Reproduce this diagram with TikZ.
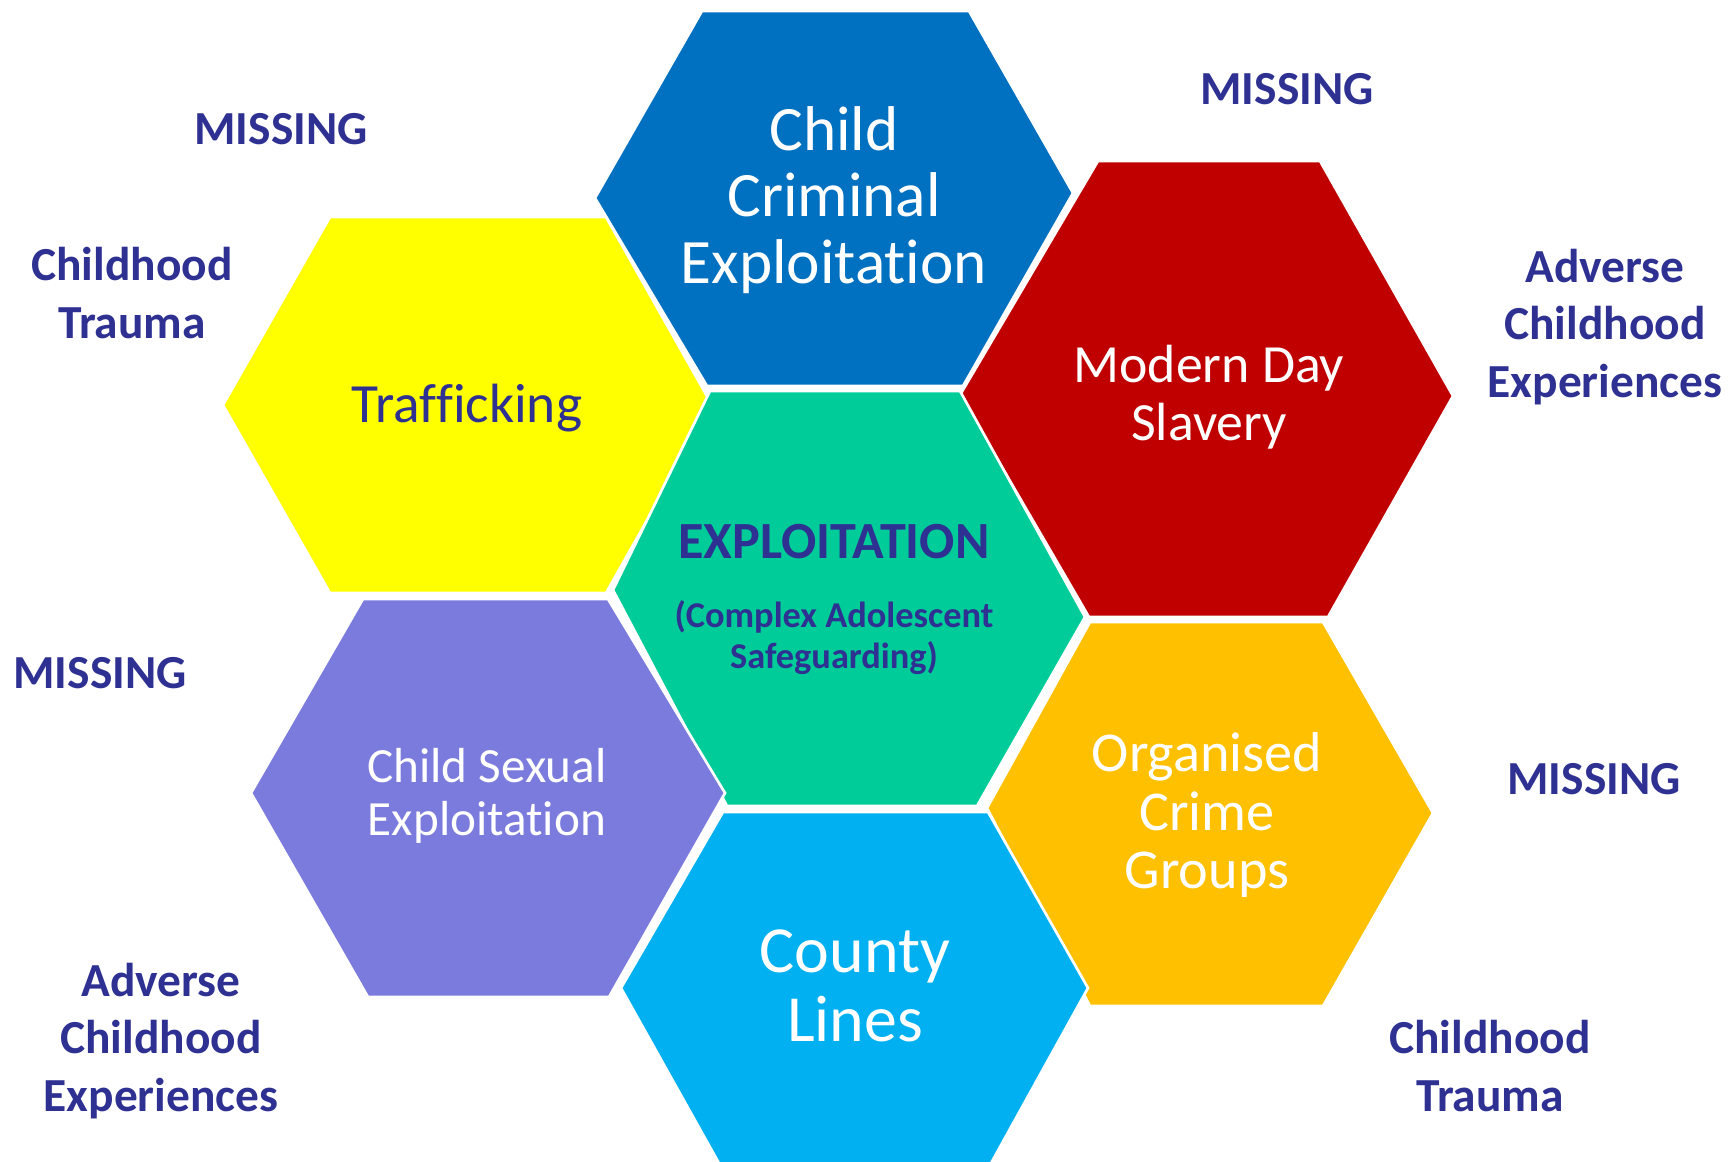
\documentclass[tikz,border=0pt]{standalone}
\usepackage{fontspec}
\setmainfont[Ligatures={NoCommon,NoRare,NoContextual},RawFeature={-liga;-clig;-dlig}]{Carlito}
\usetikzlibrary{positioning}
\definecolor{ccblue}{HTML}{0070C0}
\definecolor{trafyellow}{HTML}{FFFF00}
\definecolor{exgreen}{HTML}{00CC99}
\definecolor{slavered}{HTML}{C00000}
\definecolor{csepurple}{HTML}{7B7BDD}
\definecolor{lineblue}{HTML}{00B0F0}
\definecolor{ocgorange}{HTML}{FFC000}
\definecolor{navy}{HTML}{2E3192}
\tikzset{
    hexa/.style={
    draw=white,line width=1.5pt,line join=miter
    },
    hextext/.style={
    align=center,text=white,inner sep=0pt
    },
    sidetext/.style={
    align=center,text=navy,inner sep=0pt,font=\bfseries\fontsize{27}{32.5}\selectfont
    },
}
\begin{document}
\begin{tikzpicture}[x=0.02cm, y=-0.02cm]
  \useasboundingbox[fill=white] (0,0) rectangle (1731,1161);

  % the seven hexagons
  \filldraw[hexa,fill=ccblue] (595,198) -- (702,11) -- (969,11) -- (1073,193) -- (963,386) -- (707,386) -- cycle;
  \filldraw[hexa,fill=trafyellow] (223,405) -- (330,217) -- (606,217) -- (712,405) -- (606,593) -- (330,593) -- cycle;
  \filldraw[hexa,fill=slavered] (960,395) -- (1098,161) -- (1320,161) -- (1453,396) -- (1328,617) -- (1089,617) -- cycle;
  \filldraw[hexa,fill=exgreen] (613,590) -- (710,391) -- (960,391) -- (1085,617) -- (977,806) -- (727,806) -- cycle;
  \filldraw[hexa,fill=csepurple] (251,793) -- (363,599) -- (608,599) -- (725,793) -- (609,997) -- (368,997) -- cycle;
  \filldraw[hexa,fill=ocgorange] (987,808) -- (1090,622) -- (1323,622) -- (1433,813) -- (1323,1006) -- (1090,1006) -- cycle;
  \filldraw[hexa,fill=lineblue] (621,988) -- (723,812) -- (988,812) -- (1088,988) -- (990,1165) -- (720,1165) -- cycle;

  % hexagon labels
  \node[hextext,font=\fontsize{36}{38}\selectfont] (cce) at (834,200) {Child\\Criminal\\Exploitation};
  \node[hextext,text=navy,font=\fontsize{31.5}{34}\selectfont] (traf) at (467,408) {Trafficking};
  \node[hextext,font=\fontsize{30.6}{33.2}\selectfont] (mds) at (1209,397) {Modern Day\\Slavery};
  \node[hextext,text=navy,font=\bfseries\fontsize{29.7}{32}\selectfont] (expl) at (834,542) {EXPLOITATION};
  \node[hextext,text=navy,font=\bfseries\fontsize{20.7}{22.8}\selectfont,below=0.82cm of expl] (cas) {(Complex Adolescent\\Safeguarding)};
  \node[hextext,font=\fontsize{28}{29.8}\selectfont] (cse) at (487,796) {Child Sexual\\Exploitation};
  \node[hextext,font=\fontsize{32}{33.2}\selectfont] (ocg) at (1207,815) {Organised\\Crime\\Groups};
  \node[hextext,font=\fontsize{37.5}{39.3}\selectfont] (county) at (855,986) {County\\Lines};

  % surrounding factors
  \node[sidetext] (missA) at (281,129) {MISSING};
  \node[sidetext] (traumaA) at (132,293) {Childhood\\Trauma};
  \node[sidetext] (missB) at (1287,89) {MISSING};
  \node[sidetext] (aceA) at (1605,327) {Adverse\\Childhood\\Experiences};
  \node[sidetext] (missC) at (100,673) {MISSING};
  \node[sidetext] (missD) at (1594,779) {MISSING};
  \node[sidetext] (aceB) at (161,1041) {Adverse\\Childhood\\Experiences};
  \node[sidetext] (traumaB) at (1490,1066) {Childhood\\Trauma};
\end{tikzpicture}
\end{document}
